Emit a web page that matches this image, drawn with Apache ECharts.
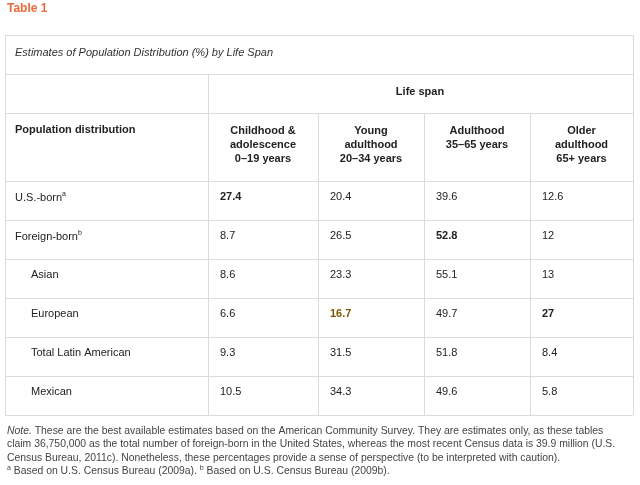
<!DOCTYPE html>
<html>
<head>
<meta charset="utf-8">
<script src="https://cdn.jsdelivr.net/npm/echarts@6/dist/echarts.min.js"></script>
<style>html,body{margin:0;background:#fff}#c{width:640px;height:485px}</style>
</head>
<body>
<div id="c"></div>
<script>
const rowLabels = ['U.S.-born', 'Foreign-born', 'Asian', 'European', 'Total Latin American', 'Mexican'];
const rowSup = ['a', 'b', '', '', '', ''];
const rowIndent = [false, false, true, true, true, true];
const colHeaders = ['Childhood &\nadolescence\n0–19 years', 'Young\nadulthood\n20–34 years', 'Adulthood\n35–65 years', 'Older\nadulthood\n65+ years'];
const childhood = [27.4, 8.7, 8.6, 6.6, 9.3, 10.5];
const young = [20.4, 26.5, 23.3, 16.7, 31.5, 34.3];
const adulthood = [39.6, 52.8, 55.1, 49.7, 51.8, 49.6];
const older = [12.6, 12, 13, 27, 8.4, 5.8];
const boldCells = ['0,0', '1,2', '3,1', '3,3'];

// layout in pixels (table geometry)
const colEdges = [5, 208, 318, 424, 530, 633];
const rowTop = 181, rowH = 39, tableTop = 35, tableBottom = 415;
const font = '"Liberation Sans", Arial, sans-serif';
const lineColor = '#dcdcdc';

const series = [childhood, young, adulthood, older];
const cells = [];
series.forEach((vals, c) => vals.forEach((v, r) => cells.push([c, r, v])));

const chart = echarts.init(document.getElementById('c'));

const lines = [];
const hl = (x1, x2, y) => lines.push({type: 'line', shape: {x1, y1: y + 0.5, x2, y2: y + 0.5}, style: {stroke: lineColor, lineWidth: 1}});
const vl = (x, y1, y2) => lines.push({type: 'line', shape: {x1: x + 0.5, y1, x2: x + 0.5, y2}, style: {stroke: lineColor, lineWidth: 1}});
hl(5, 633, tableTop); hl(5, 633, 74); hl(5, 633, 113); hl(208, 633, 113);
for (let i = 0; i <= rowLabels.length; i++) hl(5, 633, rowTop + i * rowH);
vl(5, tableTop, tableBottom); vl(633, tableTop, tableBottom); vl(208, 74, tableBottom);
for (let i = 2; i < 5; i++) vl(colEdges[i], 113, tableBottom);

const texts = [
  {type: 'text', left: 7, top: 3, style: {text: 'Table 1', font: 'bold 12px ' + font, fill: '#e8693a'}},
  {type: 'text', left: 15, top: 47, style: {text: 'Estimates of Population Distribution (%) by Life Span', font: 'italic 11px ' + font, fill: '#333'}},
  {type: 'text', x: 420, y: 86, style: {text: 'Life span', font: 'bold 11px ' + font, fill: '#222', align: 'center'}},
  {type: 'text', x: 15, y: 124, style: {text: 'Population distribution', font: 'bold 11px ' + font, fill: '#222'}}
];
colHeaders.forEach((h, i) => texts.push({type: 'text', x: (colEdges[i + 1] + colEdges[i + 2]) / 2, y: 124,
  style: {text: h, font: 'bold 11px ' + font, fill: '#222', align: 'center', lineHeight: 14}}));
rowLabels.forEach((l, i) => texts.push({type: 'text', x: rowIndent[i] ? 31 : 15, y: rowTop + i * rowH + 10,
  style: {rich: {n: {font: '11px ' + font, fill: '#222'}, s: {font: '7px ' + font, fill: '#222', verticalAlign: 'top', padding: [0, 0, 6, 0]}},
    text: rowSup[i] ? '{n|' + l + '}{s|' + rowSup[i] + '}' : '{n|' + l + '}'}}));
texts.push({type: 'text', left: 7, top: 426, style: {
  rich: {i: {font: 'italic 10.4px ' + font, fill: '#444', lineHeight: 13.5}, n: {font: '10.4px ' + font, fill: '#444', lineHeight: 13.5},
    s: {font: '7px ' + font, fill: '#444', lineHeight: 13.5, verticalAlign: 'top'}},
  text: '{i|Note.}{n| These are the best available estimates based on the American Community Survey. They are estimates only, as these tables}\n' +
    '{n|claim 36,750,000 as the total number of foreign-born in the United States, whereas the most recent Census data is 39.9 million (U.S.}\n' +
    '{n|Census Bureau, 2011c). Nonetheless, these percentages provide a sense of perspective (to be interpreted with caution).}\n' +
    '{s|a}{n| Based on U.S. Census Bureau (2009a). }{s|b}{n| Based on U.S. Census Bureau (2009b).}'
}});

chart.setOption({
  animation: false,
  grid: {left: 0, right: 0, top: 0, bottom: 0},
  xAxis: {type: 'value', min: 0, max: 640, show: false},
  yAxis: {type: 'value', min: 0, max: 485, inverse: true, show: false},
  graphic: lines.concat(texts),
  series: [{
    type: 'custom',
    data: cells,
    renderItem: (params, api) => {
      const c = api.value(0), r = api.value(1), v = api.value(2);
      const pt = api.coord([colEdges[c + 1] + 12, rowTop + r * rowH + 10]);
      const bold = boldCells.indexOf(r + ',' + c) >= 0;
      const hi = r === 3 && c === 1;
      return {type: 'text', x: pt[0], y: pt[1], style: {text: String(v),
        font: (bold ? 'bold ' : '') + '11px ' + font, fill: hi ? '#7a5a00' : '#222'}};
    }
  }]
});
</script>
</body>
</html>
